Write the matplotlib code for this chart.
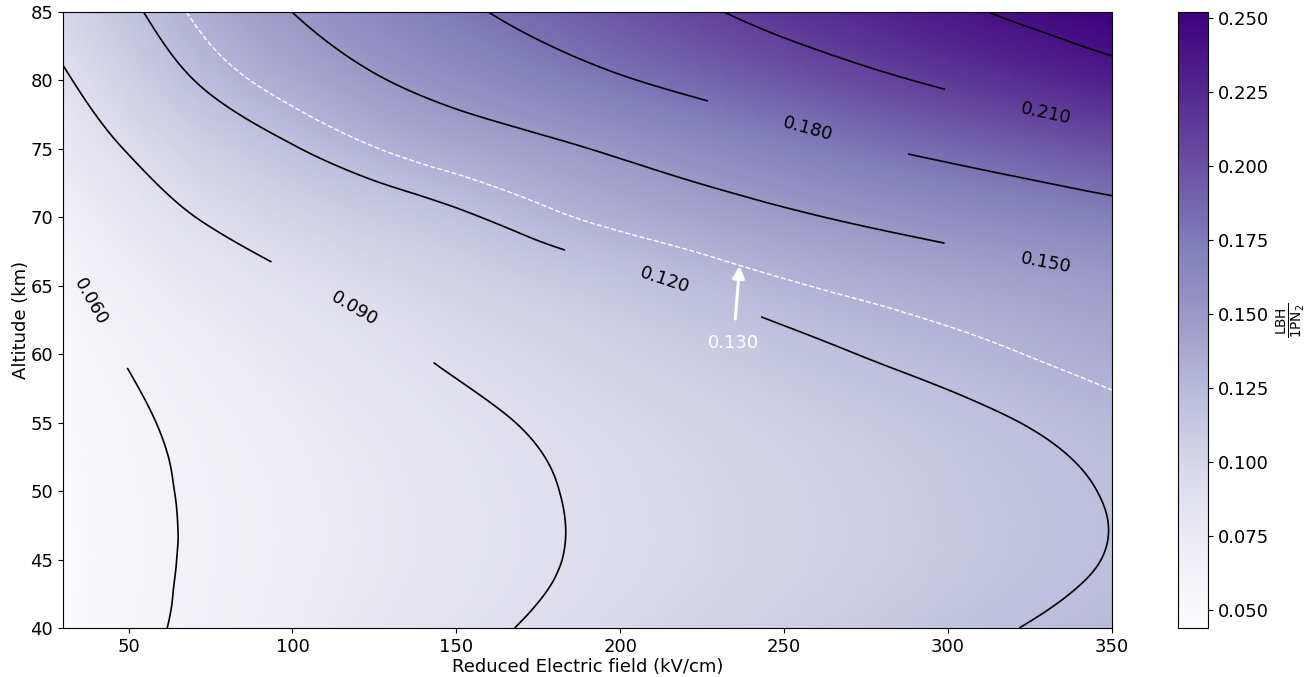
import numpy as np
import matplotlib
matplotlib.use("Agg")
import matplotlib.pyplot as plt
import matplotlib.tri as mtri

# ---------------- data ----------------
E_field = [30, 50, 75, 100, 125, 150, 175, 200, 225, 250, 275, 300, 325, 350]   # kV/cm
altitude = [40, 45, 50, 55, 60, 65, 70, 75, 80, 85]                              # km

ratio_40km = [0.0460, 0.0555, 0.0641, 0.0715, 0.0785, 0.0855, 0.0916, 0.0964, 0.1012, 0.1061, 0.1109, 0.1158, 0.1206, 0.1250]
ratio_45km = [0.0440, 0.0546, 0.0629, 0.0697, 0.0760, 0.0822, 0.0884, 0.0934, 0.0979, 0.1025, 0.1070, 0.1115, 0.1161, 0.1206]
ratio_50km = [0.0453, 0.0550, 0.0632, 0.0699, 0.0762, 0.0825, 0.0886, 0.0936, 0.0981, 0.1027, 0.1072, 0.1118, 0.1163, 0.1208]
ratio_55km = [0.0480, 0.0567, 0.0656, 0.0724, 0.0790, 0.0856, 0.0915, 0.0964, 0.1012, 0.1061, 0.1109, 0.1157, 0.1206, 0.1255]
ratio_60km = [0.0517, 0.0612, 0.0703, 0.0782, 0.0857, 0.0928, 0.0982, 0.1038, 0.1094, 0.1151, 0.1206, 0.1255, 0.1304, 0.1356]
ratio_65km = [0.0565, 0.0680, 0.0787, 0.0878, 0.0955, 0.1022, 0.1088, 0.1152, 0.1218, 0.1283, 0.1334, 0.1381, 0.1427, 0.1474]
ratio_70km = [0.0650, 0.0788, 0.0920, 0.1017, 0.1100, 0.1174, 0.1263, 0.1339, 0.1404, 0.1469, 0.1531, 0.1591, 0.1651, 0.1711]
ratio_75km = [0.0768, 0.0911, 0.1065, 0.1188, 0.1294, 0.1378, 0.1451, 0.1531, 0.1614, 0.1697, 0.1781, 0.1856, 0.1928, 0.2000]
ratio_80km = [0.0875, 0.1045, 0.1232, 0.1363, 0.1482, 0.1583, 0.1682, 0.1780, 0.1871, 0.1961, 0.2050, 0.2138, 0.2224, 0.2310]
ratio_85km = [0.0990, 0.1162, 0.1350, 0.1501, 0.1630, 0.1755, 0.1867, 0.1970, 0.2074, 0.2170, 0.2263, 0.2357, 0.2442, 0.2520]

contour_levels = [0.060, 0.090, 0.120, 0.150, 0.180, 0.210, 0.240]
highlight_level = 0.130
colorbar_ticks = [0.050, 0.075, 0.100, 0.125, 0.150, 0.175, 0.200, 0.225, 0.250]

# label anchor points (E, altitude) as seen in the reference
label_points = {0.060: (38.3, 63.8), 0.090: (118.7, 63.2), 0.120: (213.4, 65.4),
                0.150: (329.9, 66.6), 0.180: (257.1, 76.4), 0.210: (329.9, 77.7)}
label_gap = {0.060: 50, 0.090: 70, 0.120: 78, 0.150: 78, 0.180: 78, 0.210: 78}
annot_text_xy = (234.5, 60.8)
annot_tip_xy = (236.4, 66.45)

# ---------------- build field (library cubic refinement of the read grid) ----------------
E = np.array(E_field, dtype=float)
A = np.array(altitude, dtype=float)
Z = np.array([ratio_40km, ratio_45km, ratio_50km, ratio_55km, ratio_60km,
              ratio_65km, ratio_70km, ratio_75km, ratio_80km, ratio_85km])

X, Y = np.meshgrid(E, A)
xn = ((X - E.min()) / (E.max() - E.min())).ravel()
yn = ((Y - A.min()) / (A.max() - A.min())).ravel()
ny, nx = Z.shape
triangles = []
for j in range(ny - 1):
    for i in range(nx - 1):
        a = j * nx + i
        b, c = a + 1, a + nx
        d = c + 1
        triangles.append([a, b, c])
        triangles.append([b, d, c])
tri = mtri.Triangulation(xn, yn, np.array(triangles))
interp = mtri.CubicTriInterpolator(tri, Z.ravel(), kind="min_E")
tri_f, z_f = mtri.UniformTriRefiner(tri).refine_field(Z.ravel(), triinterpolator=interp, subdiv=4)
tri_plot = mtri.Triangulation(tri_f.x * (E.max() - E.min()) + E.min(),
                              tri_f.y * (A.max() - A.min()) + A.min(),
                              tri_f.triangles)

# ---------------- figure ----------------
plt.rcParams["font.family"] = ["DejaVu Sans"]
fig = plt.figure(figsize=(13.15, 6.77), dpi=100)
ax = fig.add_axes([0.0479, 0.0724, 0.7977, 0.9099])
cax = fig.add_axes([0.8958, 0.0724, 0.0228, 0.9099])

vmin, vmax = Z.min(), Z.max()
mesh = ax.tripcolor(tri_plot, z_f, shading="gouraud", cmap="Purples", vmin=vmin, vmax=vmax)

ax.set_xlim(E.min(), E.max())
ax.set_ylim(A.min(), A.max())

for lev in contour_levels:
    cs = ax.tricontour(tri_plot, z_f, levels=[lev], colors="k", linewidths=1.2)
    if lev in label_points:
        cs.clabel(manual=[label_points[lev]], inline=True,
                  inline_spacing=label_gap[lev], fmt="%.3f", fontsize=13, colors="k")

ax.tricontour(tri_plot, z_f, levels=[highlight_level], colors="white",
              linestyles="dashed", linewidths=1.0)

ax.annotate(f"{highlight_level:.3f}", xy=annot_tip_xy, xytext=annot_text_xy,
            color="white", fontsize=13, ha="center", va="center",
            arrowprops=dict(arrowstyle="-|>", color="white", lw=2.2,
                            mutation_scale=18, shrinkA=9, shrinkB=0))

ax.set_xticks([50, 100, 150, 200, 250, 300, 350])
ax.set_yticks(np.arange(40, 86, 5))
ax.tick_params(labelsize=13)
ax.set_xlabel("Reduced Electric field (kV/cm)", fontsize=13, labelpad=2)
ax.set_ylabel("Altitude (km)", fontsize=13, labelpad=0)

cb = fig.colorbar(mesh, cax=cax, ticks=colorbar_ticks, format="%.3f")
cb.ax.tick_params(labelsize=13)
cb.set_label(r"$\frac{\mathrm{LBH}}{\mathrm{1PN_2}}$", fontsize=14, labelpad=4)

fig.savefig("out.png", dpi=100)
